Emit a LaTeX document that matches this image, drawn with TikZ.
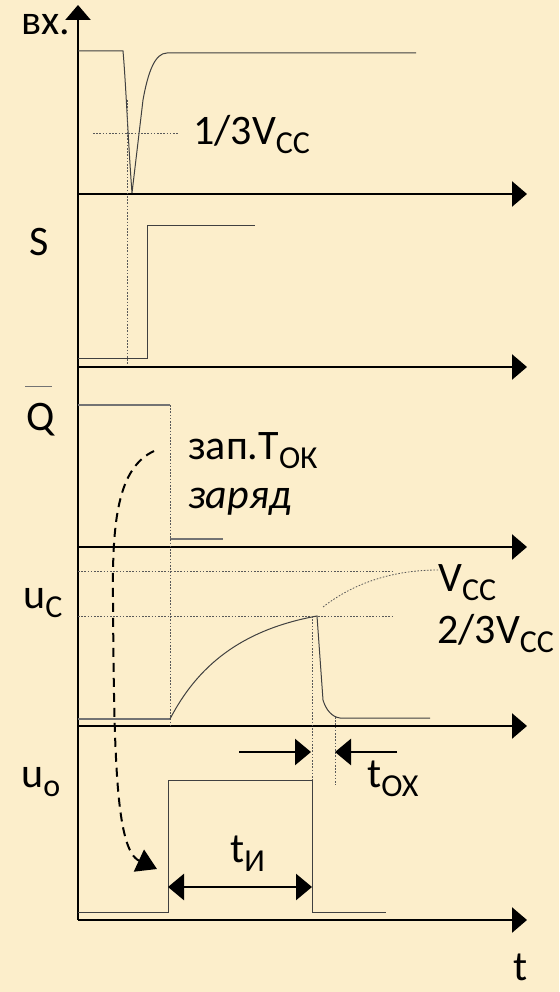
\documentclass[tikz,border=0pt]{standalone}
\usepackage{fontspec}
\setmainfont{Carlito}
\usetikzlibrary{arrows.meta}
\definecolor{paper}{RGB}{252,238,203}
\newcommand{\lowidx}[1]{\raisebox{-9pt}{\fontsize{32}{34}\selectfont #1}}

\begin{document}
\begin{tikzpicture}[x=1pt, y=-1pt,
    axis/.style={line width=2.6pt, -{Triangle[length=15pt, width=25pt]}},
    sig/.style={line width=1pt, draw=black!75},
    lowsig/.style={line width=1.4pt, draw=black!55},
    guide/.style={line width=0.8pt, draw=black!65, dash pattern=on 1.6pt off 1.6pt},
    dim/.style={line width=2.6pt, {Triangle[length=16pt, width=26pt]}-{Triangle[length=16pt, width=26pt]}},
    dimr/.style={line width=2.6pt, -{Triangle[length=16pt, width=26pt]}},
    trig/.style={line width=2pt, dash pattern=on 9pt off 6pt, -{Triangle[length=20pt, width=24pt]}},
    lbl/.style={anchor=base west, inner sep=0pt, font=\fontsize{42}{50}\selectfont},
]
\fill[paper] (0,0) rectangle (559,992);
\useasboundingbox (0,0) rectangle (559,992);

% Axes
\coordinate (O) at (78,920);
\coordinate (ytop) at (78,5);
\draw[axis] (O) -- (ytop);
\foreach \n/\y in {1/194, 2/367, 3/547, 4/726, 5/920} {
  \coordinate (base\n) at (78,\y);
  \coordinate (end\n) at (527,\y);
  \draw[axis] (base\n) -- (end\n);
}

% Input pulse
\draw[sig] (78,51) -- (123,51) .. controls (126,85) and (128,140) .. (132,193)
           -- (143,100) .. controls (148,72) and (155,53) .. (167,53) -- (416,53);
\draw[guide] (93,133) -- (178,133);
\draw[guide] (127,100) -- (127,365);

% S
\draw[sig] (78,358) -- (147,358) -- (147,226) -- (255,226);

% Q inverted
\draw[lowsig] (78,405) -- (170,405);
\draw[lowsig] (170,539) -- (223,539);
\draw[guide] (170,405) -- (170,726);

% Capacitor voltage
\draw[guide] (78,571) -- (393,571);
\draw[guide] (78,616) -- (393,616);
\draw[guide] (323,607) .. controls (355,582) and (395,570) .. (438,570);
\draw[lowsig] (78,719) -- (170,719);
\draw[sig] (170,719) .. controls (197,667) and (240,630) .. (317,616)
           -- (323,700) .. controls (326,710) and (332,717) .. (340,718) -- (430,718);
\draw[guide] (312,616) -- (312,780);
\draw[guide] (335,717) -- (335,785);

% Output pulse
\draw[sig] (78,912) -- (168,912) -- (168,780) -- (312,780) -- (312,912) -- (386,912);

% Time marks
\coordinate (pstart) at (168,887);
\coordinate (pstop) at (312,887);
\draw[dim] (pstart) -- (pstop);
\coordinate (fa) at (239,752);
\coordinate (fb) at (311,752);
\draw[dimr] (fa) -- (fb);
\coordinate (fc) at (397,752);
\coordinate (fd) at (335,752);
\draw[dimr] (fc) -- (fd);

% Trigger arrow
\coordinate (trs) at (154,451);
\coordinate (tre) at (157,869);
\draw[trig] (trs) .. controls (118,468) and (112,520) .. (113,600)
            .. controls (114,760) and (116,850) .. (tre);

% Labels
\node[lbl] (inlab) at (21,35) {вх.};
\node[lbl] (third) at (193,145) {1/3V\lowidx{CC}};
\node[lbl] (slab) at (29,255) {S};
\node[lbl] (qlab) at (26,430) {Q};
\draw[lowsig] ([xshift=-1pt, yshift=16pt]qlab.north west) -- ([xshift=-3pt, yshift=16pt]qlab.north east);
\node[lbl] (oklab) at (188,459) {зап.Т\lowidx{ОК}};
\node[lbl] (charge) at (188,508) {\itshape заряд};
\node[lbl] (uclab) at (23,608) {u\lowidx{C}};
\node[lbl] (vcc) at (438,591) {V\lowidx{CC}};
\node[lbl] (twothird) at (437,643) {2/3V\lowidx{CC}};
\node[lbl] (uolab) at (21,787) {u\lowidx{o}};
\node[lbl] (tox) at (367,787) {t\lowidx{ОХ}};
\node[lbl] (tpulse) at (230,862) {t\lowidx{И}};
\node[lbl] (tlab) at (513,980) {t};

\end{tikzpicture}
\end{document}
